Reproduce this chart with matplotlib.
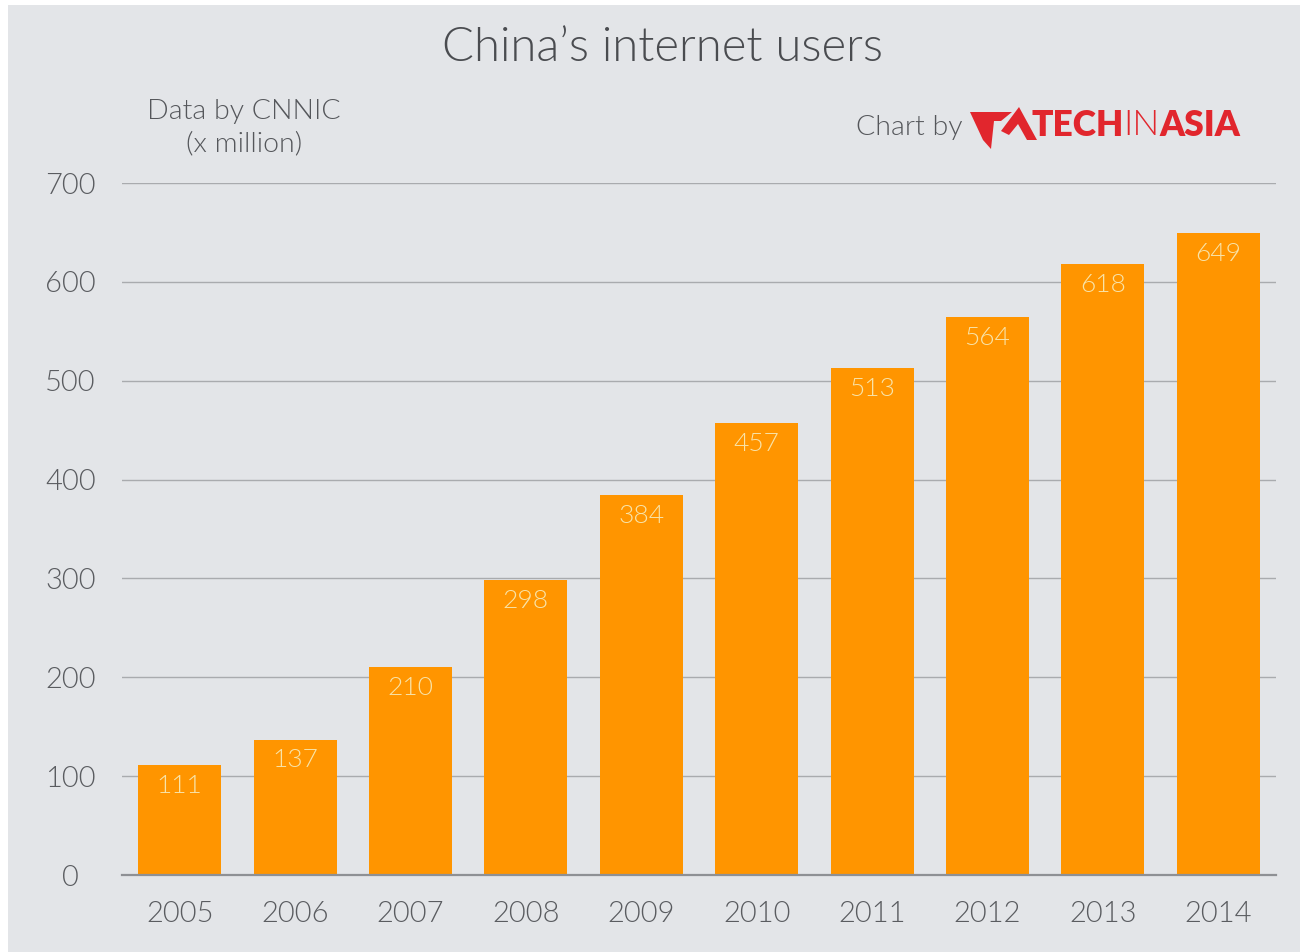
import matplotlib
matplotlib.use("Agg")
import matplotlib.pyplot as plt
from matplotlib.patches import Rectangle, Polygon

years = ["2005", "2006", "2007", "2008", "2009", "2010", "2011", "2012", "2013", "2014"]
users = [111, 137, 210, 298, 384, 457, 513, 564, 618, 649]
yticks = [0, 100, 200, 300, 400, 500, 600, 700]

FONT = ["Lato", "DejaVu Sans"]
plt.rcParams["font.family"] = FONT
LW = 300

W, H = 1300, 952
fig = plt.figure(figsize=(13, 9.52), dpi=100, facecolor="#e3e5e8")
# white margins at left and top
fig.patches.append(Rectangle((0, 0), 8 / W, 1, transform=fig.transFigure,
                             facecolor="white", edgecolor="none", zorder=-5))
fig.patches.append(Rectangle((0, 1 - 5 / H), 1, 5 / H, transform=fig.transFigure,
                             facecolor="white", edgecolor="none", zorder=-5))

ax = fig.add_axes([122 / W, 77 / H, (1276 - 122) / W, (875 - 183) / H])
ax.set_facecolor("none")
x = list(range(len(years)))
ax.bar(x, users, width=0.72, color="#ff9500", zorder=3)
for xi, v in zip(x, users):
    ax.text(xi, v - 9, str(v), ha="center", va="top", fontsize=19, color="#f8e3a8",
            fontweight=LW, zorder=4)

ax.set_xlim(-0.5, len(years) - 0.5)
ax.set_ylim(0, 700)
ax.set_yticks(yticks)
ax.set_xticks(x)
ax.set_xticklabels(years)
ax.grid(axis="y", color="#a9abae", linewidth=1.0, zorder=1)
ax.grid(axis="x", visible=False)
for s in ["top", "right", "left"]:
    ax.spines[s].set_visible(False)
ax.spines["bottom"].set_color("#8e9094")
ax.spines["bottom"].set_linewidth(1.6)
ax.spines["bottom"].set_zorder(5)
ax.tick_params(length=0, labelsize=21, colors="#5a5c60")
ax.tick_params(axis="y", pad=37)
ax.tick_params(axis="x", pad=19)
for lbl in ax.get_xticklabels() + ax.get_yticklabels():
    lbl.set_fontweight(LW)
for lbl in ax.get_yticklabels():
    lbl.set_horizontalalignment("center")

fig.text(663 / W, 1 - 48 / H, "China\u2019s internet users", ha="center", va="center",
         fontsize=34, color="#4a4c50", fontweight=LW)
fig.text(244 / W, 1 - 128 / H, "Data by CNNIC\n(x million)", ha="center", va="center",
         fontsize=20.5, color="#55575b", fontweight=LW, linespacing=1.35)
fig.text(963 / W, 1 - 128 / H, "Chart by", ha="right", va="center",
         fontsize=20.5, color="#55575b", fontweight=LW)

red = "#e1262d"
def P(pts):
    return [(px / W, 1 - py / H) for px, py in pts]
fig.patches.append(Polygon(P([(970, 112), (1012, 112), (1001, 121), (994, 121), (991, 149), (983, 140)]),
                           closed=True, transform=fig.transFigure, facecolor=red, edgecolor="none"))
fig.patches.append(Polygon(P([(1001, 131), (1019, 107), (1037, 140), (1027, 140), (1018, 124), (1009, 135)]),
                           closed=True, transform=fig.transFigure, facecolor=red, edgecolor="none"))
t1 = fig.text(1031 / W, 1 - 125 / H, "TECH", ha="left", va="center", fontsize=25.5,
              color=red, fontweight="heavy")
fig.canvas.draw()
r = fig.canvas.get_renderer()
bb = t1.get_window_extent(r)
t2 = fig.text(bb.x1 / W, 1 - 125 / H, "IN", ha="left", va="center", fontsize=25.5,
              color=red, fontweight=LW)
bb2 = t2.get_window_extent(r)
fig.text(bb2.x1 / W, 1 - 125 / H, "ASIA", ha="left", va="center", fontsize=25.5,
         color=red, fontweight="heavy")

fig.savefig("out.png", dpi=100, facecolor=fig.get_facecolor())
